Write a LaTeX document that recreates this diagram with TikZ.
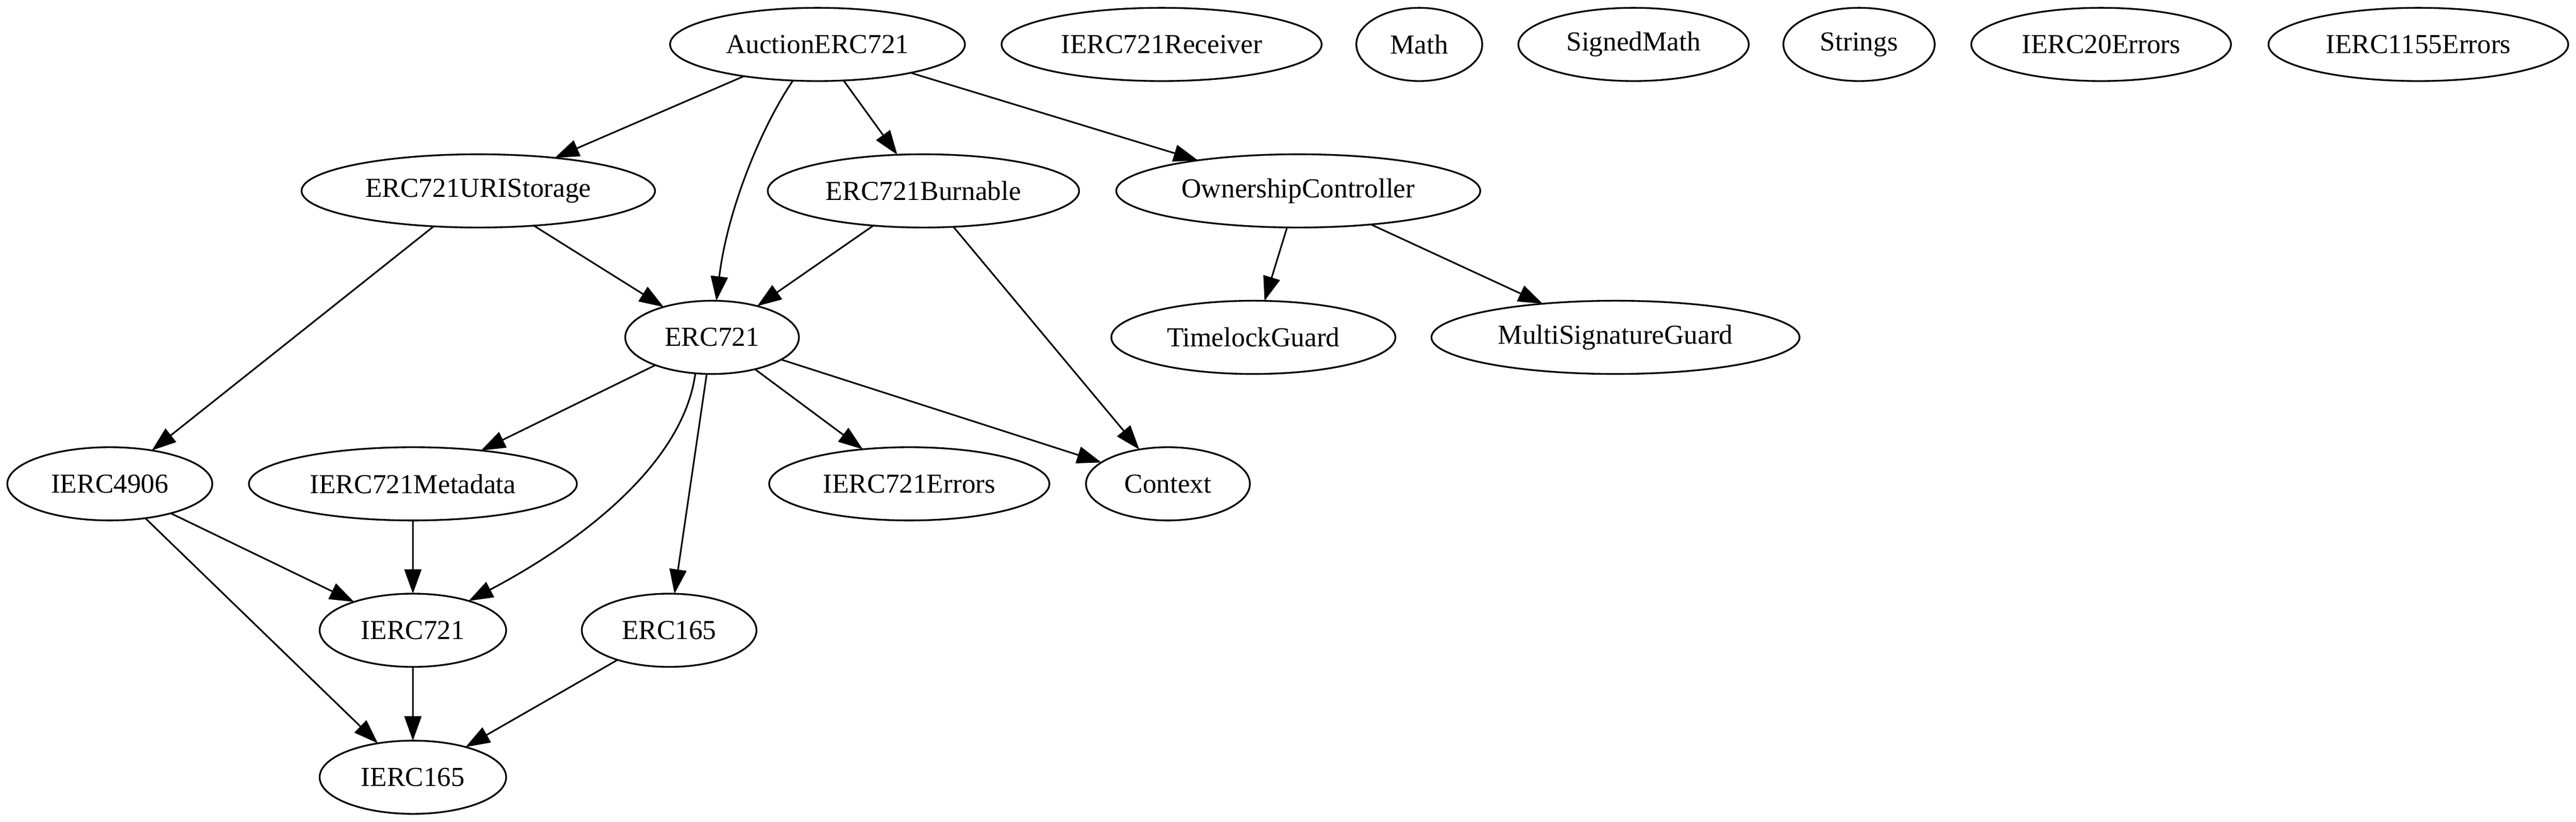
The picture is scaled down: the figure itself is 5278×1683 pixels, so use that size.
\documentclass[tikz,border=0pt]{standalone}
\usepackage{fontspec}
\setmainfont{Liberation Serif}
\usetikzlibrary{shapes.geometric,arrows.meta}
\tikzset{
  nd/.style={ellipse, draw, line width=0.85pt, inner sep=0pt, outer sep=0pt,
    minimum height=36pt, minimum width=#1, font=\fontsize{13.5}{16}\selectfont},
  edge/.style={draw, line width=0.8pt, -{Triangle[length=12pt,width=8.4pt]}}
}
\begin{document}
\begin{tikzpicture}[x=0.24pt,y=-0.24pt]
\useasboundingbox (0,0) rectangle (5278,1683);
% rank 0
\node[nd=145pt] (auc) at (1675,91) {AuctionERC721};
\node[nd=157.4pt] (rcv) at (2380,91) {IERC721Receiver};
\node[nd=61.9pt] (math) at (2908,91) {Math};
\node[nd=113.3pt] (smath) at (3347,91) {SignedMath};
\node[nd=74.4pt] (str) at (3809,91) {Strings};
\node[nd=127.7pt] (e20) at (4305,91) {IERC20Errors};
\node[nd=147.4pt] (e1155) at (4955,91) {IERC1155Errors};
% rank 1
\node[nd=173.8pt] (uri) at (980,391) {ERC721URIStorage};
\node[nd=153.1pt] (burn) at (1892,391) {ERC721Burnable};
\node[nd=179pt] (own) at (2660,391) {OwnershipController};
% rank 2
\node[nd=85.4pt] (erc) at (1459,691) {ERC721};
\node[nd=139.7pt] (time) at (2568,691) {TimelockGuard};
\node[nd=181pt] (msig) at (3310,691) {MultiSignatureGuard};
% rank 3
\node[nd=100.8pt] (i4906) at (225,991) {IERC4906};
\node[nd=161.3pt] (meta) at (846,991) {IERC721Metadata};
\node[nd=137.8pt] (err) at (1863,991) {IERC721Errors};
\node[nd=80.6pt] (ctx) at (2393,991) {Context};
% rank 4
\node[nd=91.7pt] (i721) at (846,1291) {IERC721};
\node[nd=85.9pt] (e165) at (1371,1291) {ERC165};
% rank 5
\node[nd=91.7pt] (i165) at (846,1592) {IERC165};
% edges
\path[edge] (auc) -- (uri);
\path[edge] (auc) .. controls (1560,260) and (1490,430) .. (erc);
\path[edge] (auc) -- (burn);
\path[edge] (auc) -- (own);
\path[edge] (uri) -- (erc);
\path[edge] (uri) -- (i4906);
\path[edge] (burn) -- (erc);
\path[edge] (burn) -- (ctx);
\path[edge] (own) -- (time);
\path[edge] (own) -- (msig);
\path[edge] (erc) -- (meta);
\path[edge] (erc.245) .. controls (1400,950) and (1190,1110) .. (i721);
\path[edge] (erc) -- (e165);
\path[edge] (erc) -- (err);
\path[edge] (erc) -- (ctx);
\path[edge] (i4906) -- (i721);
\path[edge] (i4906) -- (i165);
\path[edge] (meta) -- (i721);
\path[edge] (i721) -- (i165);
\path[edge] (e165) -- (i165);
\end{tikzpicture}
\end{document}
